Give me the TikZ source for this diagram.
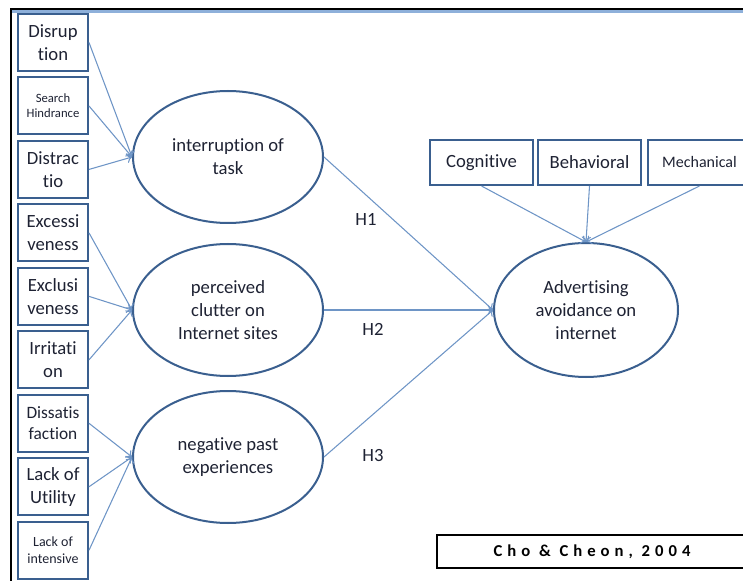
\documentclass[tikz,border=0pt]{standalone}
\usepackage{fontspec}
\setmainfont{Carlito}[Ligatures=NoCommon]
\usetikzlibrary{shapes.geometric,positioning,arrows.meta}
\definecolor{boxblue}{HTML}{3A5F8F}
\definecolor{arrowblue}{HTML}{6E95C6}
\definecolor{txt}{HTML}{1E2233}
\definecolor{rulblue}{HTML}{8EB0DA}

\begin{document}
\begin{tikzpicture}[x=0.75pt, y=-0.75pt, node distance=47.6pt, on grid,
    >={To[length=4pt,width=7pt]},
    factor/.style={draw=boxblue, line width=1.5pt, minimum width=52.5pt,
      minimum height=42.75pt, inner sep=0pt, align=center, text=txt,
      font=\fontsize{14}{17.25}\selectfont},
    construct/.style={ellipse, draw=boxblue, line width=1.5pt, minimum width=142.5pt,
      minimum height=99pt, inner sep=0pt, align=center, text=txt,
      font=\fontsize{14}{17.25}\selectfont},
    kind/.style={draw=boxblue, line width=1.5pt, minimum width=77.25pt,
      minimum height=33.75pt, inner sep=0pt, text=txt,
      font=\fontsize{14}{17}\selectfont},
    link/.style={->, draw=arrowblue, line width=0.8pt},
    hyp/.style={text=txt, font=\fontsize{14}{17}\selectfont}]
    \useasboundingbox (0,0) rectangle (743,581);

    % frame
    \draw[line width=1.5pt] (11,581) -- (11,9) -- (743,9);
    \draw[rulblue, line width=2.25pt] (12,12) -- (743,12);

    % left factors
    \node[factor] (D1) at (53,42.5) {Disrup\\tion};
    \node[factor, below=of D1, font=\fontsize{9.5}{11.25}\selectfont] (D2) {Search\\Hindrance};
    \node[factor, below=of D2] (D3) {Distrac\\tio};
    \node[factor, below=of D3] (D4) {Excessi\\veness};
    \node[factor, below=of D4] (D5) {Exclusi\\veness};
    \node[factor, below=of D5] (D6) {Irritati\\on};
    \node[factor, below=of D6, font=\fontsize{13}{16}\selectfont] (D7) {Dissatis\\faction};
    \node[factor, below=of D7] (D8) {Lack of\\Utility};
    \node[factor, below=of D8, font=\fontsize{10.5}{12.75}\selectfont] (D9) {Lack of\\intensive};

    % constructs
    \node[construct] (task) at (228,157) {interruption of\\task};
    \node[construct] (clutter) at (228,310) {perceived\\clutter on\\Internet sites};
    \node[construct] (past) at (228,457) {negative past\\experiences};
    \node[construct, minimum width=138pt, minimum height=100.5pt] (avoid) at (586,310)
      {Advertising\\avoidance on\\internet};

    % avoidance kinds
    \node[kind] (cog) at (481.5,162.5) {Cognitive};
    \node[kind] (beh) at (589.5,162.5) {Behavioral};
    \node[kind, font=\fontsize{12}{14}\selectfont] (mech) at (699.5,162.5) {Mechanical};

    % hypotheses
    \node[hyp] (H1) at (366,219) {H1};
    \node[hyp] (H2) at (373,329) {H2};
    \node[hyp] (H3) at (373,456) {H3};

    % source
    \node[draw, line width=1.5pt, minimum width=232.5pt, minimum height=24.75pt,
      font=\fontsize{12.5}{15}\selectfont\bfseries\addfontfeature{LetterSpace=30}]
      (src) at (592,551.5) {Cho \& Cheon, 2004};

    \foreach \f in {D1,D2,D3}
      \draw[link] (\f.east) -- (task.west);
    \foreach \f in {D4,D5,D6}
      \draw[link] (\f.east) -- (clutter.west);
    \foreach \f in {D7,D8,D9}
      \draw[link] (\f.east) -- (past.west);
    \foreach \c in {task,clutter,past}
      \draw[link] (\c.east) -- (avoid.west);
    \foreach \k in {cog,beh,mech}
      \draw[link] (\k.south) -- (avoid.north);
\end{tikzpicture}
\end{document}
